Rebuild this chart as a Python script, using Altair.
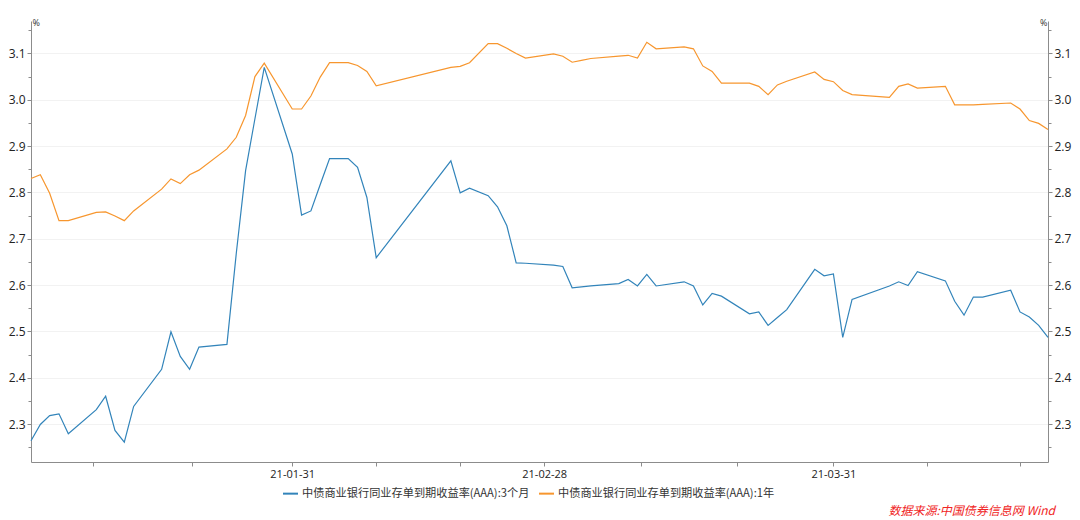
import altair as alt
import pandas as pd

# ---- data ----
dates = [
    "2021-01-04", "2021-01-05", "2021-01-06", "2021-01-07", "2021-01-08",
    "2021-01-11", "2021-01-12", "2021-01-13", "2021-01-14", "2021-01-15",
    "2021-01-18", "2021-01-19", "2021-01-20", "2021-01-21", "2021-01-22",
    "2021-01-25", "2021-01-26", "2021-01-27", "2021-01-28", "2021-01-29",
    "2021-02-01", "2021-02-02", "2021-02-03", "2021-02-04", "2021-02-05",
    "2021-02-07", "2021-02-08", "2021-02-09", "2021-02-10",
    "2021-02-18", "2021-02-19", "2021-02-20",
    "2021-02-22", "2021-02-23", "2021-02-24", "2021-02-25", "2021-02-26",
    "2021-03-01", "2021-03-02", "2021-03-03", "2021-03-04", "2021-03-05",
    "2021-03-08", "2021-03-09", "2021-03-10", "2021-03-11", "2021-03-12",
    "2021-03-15", "2021-03-16", "2021-03-17", "2021-03-18", "2021-03-19",
    "2021-03-22", "2021-03-23", "2021-03-24", "2021-03-25", "2021-03-26",
    "2021-03-29", "2021-03-30", "2021-03-31", "2021-04-01", "2021-04-02",
    "2021-04-06", "2021-04-07", "2021-04-08", "2021-04-09",
    "2021-04-12", "2021-04-13", "2021-04-14", "2021-04-15", "2021-04-16",
    "2021-04-19", "2021-04-20", "2021-04-21", "2021-04-22", "2021-04-23",
]

rate_3m = [
    2.264, 2.299, 2.318, 2.322, 2.279,
    2.331, 2.360, 2.286, 2.261, 2.338,
    2.418, 2.499, 2.446, 2.418, 2.466,
    2.472, 2.668, 2.847, 2.959, 3.070,
    2.883, 2.751, 2.760, 2.817, 2.873,
    2.873, 2.854, 2.789, 2.659,
    2.868, 2.799, 2.809,
    2.793, 2.769, 2.728, 2.648, 2.647,
    2.643, 2.640, 2.594, 2.596, 2.598,
    2.603, 2.612, 2.598, 2.623, 2.598,
    2.607, 2.598, 2.557, 2.582, 2.576,
    2.538, 2.542, 2.513, 2.530, 2.547,
    2.634, 2.620, 2.624, 2.487, 2.569,
    2.598, 2.607, 2.599, 2.629,
    2.609, 2.565, 2.535, 2.574, 2.574,
    2.589, 2.542, 2.531, 2.513, 2.487,
]

rate_1y = [
    2.830, 2.838, 2.798, 2.739, 2.739,
    2.757, 2.758, 2.749, 2.739, 2.760,
    2.807, 2.829, 2.819, 2.838, 2.848,
    2.894, 2.919, 2.966, 3.050, 3.079,
    2.980, 2.980, 3.008, 3.049, 3.080,
    3.080, 3.074, 3.061, 3.030,
    3.070, 3.072, 3.080,
    3.121, 3.121, 3.111, 3.100, 3.090,
    3.099, 3.094, 3.081, 3.085, 3.089,
    3.094, 3.096, 3.090, 3.124, 3.110,
    3.114, 3.110, 3.073, 3.061, 3.036,
    3.036, 3.029, 3.011, 3.032, 3.040,
    3.060, 3.044, 3.039, 3.020, 3.011,
    3.005, 3.029, 3.034, 3.025,
    3.029, 2.989, 2.989, 2.989, 2.990,
    2.993, 2.980, 2.955, 2.949, 2.936,
]

series_names = [
    "中债商业银行同业存单到期收益率(AAA):3个月",
    "中债商业银行同业存单到期收益率(AAA):1年",
]
series_colors = ["#3284ba", "#f7962e"]

y_ticks = [2.25, 2.3, 2.35, 2.4, 2.45, 2.5, 2.55, 2.6, 2.65, 2.7, 2.75,
           2.8, 2.85, 2.9, 2.95, 3.0, 3.05, 3.1, 3.15]
x_labels = ["21-01-31", "21-02-28", "21-03-31"]
source_text = "数据来源:中国债券信息网 Wind"

# ---- build table ----
rows = []
for d, v in zip(dates, rate_3m):
    rows.append({"date": d + "T00:00:00", "series": series_names[0], "value": v})
for d, v in zip(dates, rate_1y):
    rows.append({"date": d + "T00:00:00", "series": series_names[1], "value": v})
df = pd.DataFrame(rows)

x_domain = [alt.DateTime(year=2021, month=1, date=4),
            alt.DateTime(year=2021, month=4, date=23)]
x_tick_values = [
    alt.DateTime(year=2021, month=1, date=10, hours=15),
    alt.DateTime(year=2021, month=1, date=21, hours=6),
    alt.DateTime(year=2021, month=1, date=31, hours=23, minutes=59),
    alt.DateTime(year=2021, month=2, date=10),
    alt.DateTime(year=2021, month=2, date=19),
    alt.DateTime(year=2021, month=2, date=28),
    alt.DateTime(year=2021, month=3, date=10, hours=9),
    alt.DateTime(year=2021, month=3, date=20, hours=16),
    alt.DateTime(year=2021, month=3, date=31),
    alt.DateTime(year=2021, month=4, date=10),
    alt.DateTime(year=2021, month=4, date=20),
]

major_test = "abs(datum.value*10 - round(datum.value*10)) < 0.01"
num_font = "Open Sans"
cjk_font = "Noto Sans CJK SC"

x_axis = alt.Axis(
    values=x_tick_values,
    format="%y-%m-%d",
    labelExpr="indexof(" + str(x_labels) + ", datum.label) >= 0 ? datum.label : ''",
    grid=False,
    domainColor="#8c8c8c",
    tickColor="#8c8c8c",
    tickSize=4,
    labelFont=num_font,
    labelFontSize=11,
    labelColor="#222222",
    labelPadding=2,
    labelFlush=False,
    labelOverlap=False,
    title=None,
)


def y_axis(orient):
    return alt.Axis(
        orient=orient,
        values=y_ticks,
        labelExpr=major_test + " ? format(datum.value, '.1f') : ''",
        grid=True,
        gridColor="#f2f2f2",
        gridOpacity={"condition": {"test": major_test, "value": 1}, "value": 0},
        tickSize={"condition": {"test": major_test, "value": 4}, "value": 3},
        domainColor="#8c8c8c",
        tickColor="#8c8c8c",
        labelFont=num_font,
        labelFontSize=12,
        labelColor="#222222",
        labelPadding=2,
        labelFlush=False,
        labelOverlap=False,
        title="%",
        titleAngle=0,
        titleFont=num_font,
        titleFontSize=9,
        titleFontWeight="normal",
        titleColor="#333333",
        titleX=1 if orient == "left" else -1,
        titleY=4,
        titleAlign="left" if orient == "left" else "right",
        titleBaseline="alphabetic",
    )


y_scale = alt.Scale(domain=[2.218, 3.170], zero=False, nice=False)
x_scale = alt.Scale(domain=x_domain)

lines = alt.Chart(df).mark_line(strokeWidth=1.2).encode(
    x=alt.X("date:T", scale=x_scale, axis=x_axis),
    y=alt.Y("value:Q", scale=y_scale, axis=y_axis("left")),
    color=alt.Color(
        "series:N",
        scale=alt.Scale(domain=series_names, range=series_colors),
        legend=alt.Legend(
            orient="none",
            legendX=251,
            legendY=464,
            direction="horizontal",
            title=None,
            symbolType="stroke",
            symbolStrokeWidth=2,
            symbolSize=225,
            labelFont=cjk_font,
            labelFontSize=11.2,
            labelColor="#333333",
            labelLimit=500,
            labelOffset=3,
            columnPadding=5,
            padding=0,
        ),
    ),
)

right_axis_layer = alt.Chart(df).mark_line(opacity=0).encode(
    x=alt.X("date:T", scale=x_scale, axis=x_axis),
    y=alt.Y("value:Q", scale=y_scale, axis=y_axis("right")),
    detail="series:N",
)

source = alt.Chart(pd.DataFrame({"text": [source_text]})).mark_text(
    align="right",
    baseline="middle",
    font=cjk_font,
    fontSize=12,
    fontStyle="italic",
    color="#f02424",
).encode(
    text="text:N",
    x=alt.value(1024),
    y=alt.value(490),
)

chart = (
    alt.layer(lines, right_axis_layer, source)
    .resolve_scale(y="independent")
    .properties(
        width=1017,
        height=441,
        autosize=alt.AutoSizeParams(type="none"),
        padding={"left": 31, "top": 21, "right": 32, "bottom": 58},
        background="white",
    )
    .configure_view(stroke=None)
)

chart.save("out.html", embed_options={"renderer": "svg", "actions": False})
